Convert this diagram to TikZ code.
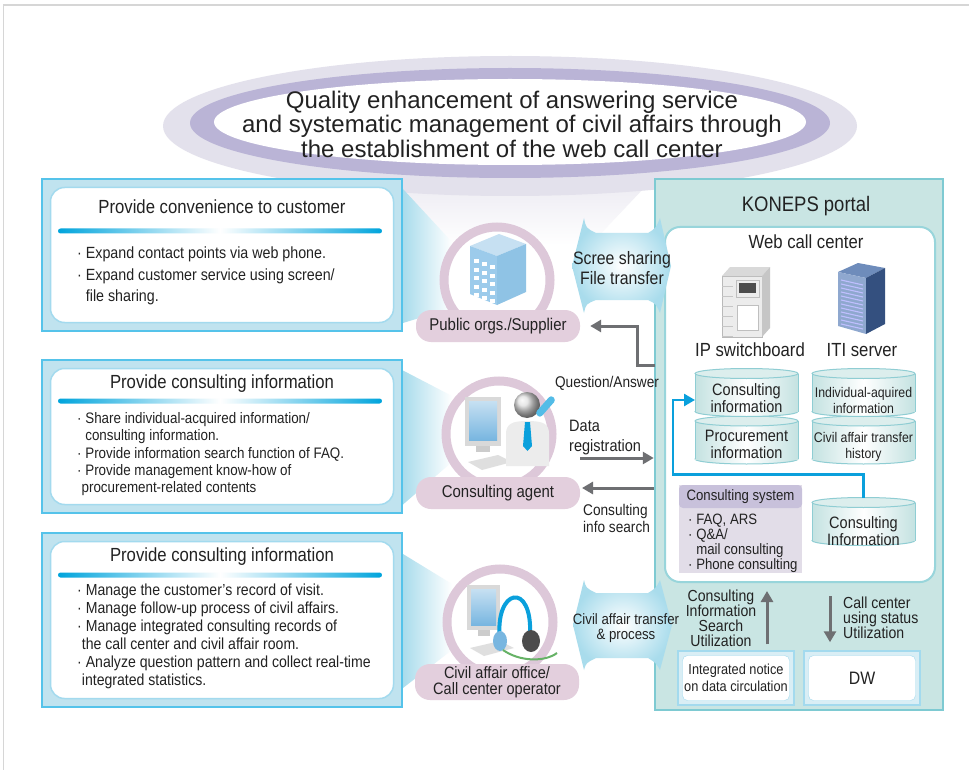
\documentclass[tikz,border=0pt]{standalone}
\usepackage{fontspec}
\setmainfont{Liberation Sans}[FakeStretch=0.88]
\newfontfamily\headfont{Liberation Sans}
\usetikzlibrary{arrows.meta,positioning}

% colours
\definecolor{halolav}{HTML}{E3E1EC}
\definecolor{ringlav}{HTML}{BAB4D6}
\definecolor{boxblue}{HTML}{55C3EA}
\definecolor{boxfill}{HTML}{C0E3EF}
\definecolor{innerline}{HTML}{A3DAEE}
\definecolor{barblue}{HTML}{00A4DC}
\definecolor{conecyan}{HTML}{A9DCEC}
\definecolor{pinkring}{HTML}{DDC8D9}
\definecolor{pillpink}{HTML}{E3CFDD}
\definecolor{portalfill}{HTML}{C9E5E3}
\definecolor{portalline}{HTML}{7ECAD2}
\definecolor{arrowgray}{HTML}{6E6F72}
\definecolor{flowblue}{HTML}{0AA0DC}
\definecolor{cylfill}{HTML}{C4E2E1}
\definecolor{cylline}{HTML}{8FCDD3}
\definecolor{sysfill}{HTML}{E2DDE8}
\definecolor{syshead}{HTML}{C8C1DB}
\definecolor{framegray}{HTML}{D6D6D6}
\definecolor{bldlight}{HTML}{C6E0F2}
\definecolor{bldmid}{HTML}{9CCBEB}
\definecolor{blddark}{HTML}{78B6E0}
\definecolor{itiTop}{HTML}{6E8CBB}
\definecolor{itiFront}{HTML}{8FA8CF}
\definecolor{itiSide}{HTML}{34507F}
\definecolor{ink}{HTML}{222222}

\newcommand{\fsz}[2]{\fontsize{#1}{#2}\selectfont}

\tikzset{
  outerbox/.style={draw=boxblue, line width=2pt, fill=boxfill, minimum width=360pt, inner sep=0pt},
  innerbox/.style={draw=innerline, line width=1.5pt, fill=white, rounded corners=14pt, minimum width=343pt, inner sep=0pt},
  boxtitle/.style={font=\fsz{19}{22}, text=ink, inner sep=0pt},
  bullets/.style={anchor=north west, align=left, inner sep=0pt, text=ink},
  ring/.style={draw=pinkring, line width=9pt, fill=white, circle, minimum size=106pt, inner sep=0pt},
  pill/.style={fill=pillpink, rounded corners=15pt, minimum width=164pt, minimum height=32pt, inner sep=0pt, font=\fsz{17}{15}, align=center, text=ink},
  portal/.style={draw=portalline, line width=2.5pt, fill=portalfill, inner sep=0pt},
  webcc/.style={draw=portalline!80, line width=2pt, fill=white, rounded corners=15pt, inner sep=0pt},
  grayarrow/.style={draw=arrowgray, line width=3pt, -{Triangle[length=11pt,width=12pt]}},
  flowline/.style={draw=flowblue, line width=2.6pt, -{Triangle[length=11pt,width=12pt]}},
  fat/.style={inner color=white, outer color=conecyan},
  lbl/.style={inner sep=0pt, align=center, text=ink},
  dbtext/.style={inner sep=0pt, align=center, text=ink},
  pics/dbcan/.style={code={
    \shade[left color=cylfill, right color=cylfill, middle color=white] (0,19) ellipse [x radius=51.5, y radius=5];
    \draw[cylline, line width=1pt] (0,19) ellipse [x radius=51.5, y radius=5];
    \shade[left color=cylfill, right color=cylfill, middle color=white] (-51.5,-19) rectangle (51.5,19);
    \draw[cylline, line width=1pt] (-51.5,-19) -- (-51.5,19) (51.5,-19) -- (51.5,19);
    \fill[cylfill!60] (0,-19) ellipse [x radius=51.5, y radius=5];
    \draw[cylline, line width=1pt] (0,-19) ellipse [x radius=51.5, y radius=5];
    \coordinate (-top) at (0,-24);
    \coordinate (-west) at (-51.5,7.5);
  }},
}

\begin{document}
\begin{tikzpicture}[x=1pt,y=-1pt]
  \useasboundingbox[fill=white] (0,0) rectangle (969,770);
  \draw[framegray, line width=1.5pt] (3.5,770) -- (3.5,5) -- (969,5);

  % goal ellipse and its funnel
  \shade[top color=halolav, bottom color=white] (350,150) -- (680,150) -- (590,245) -- (440,245) -- cycle;
  \fill[halolav] (510,126) ellipse [x radius=347, y radius=70];
  \fill[ringlav] (510,123) ellipse [x radius=320, y radius=55];
  \fill[white] (510,122) ellipse [x radius=296, y radius=43];
  \node[lbl, font=\headfont\fsz{24}{24.5}] (goal) at (512,124)
    {Quality enhancement of answering service\\and systematic management of civil affairs through\\the establishment of the web call center};

  % left boxes
  \foreach \nm/\cy/\h/\ty/\by/\ttl in {cust/255/152/207/231/Provide convenience to customer,
      info/436.5/153/384/401/Provide consulting information,
      civil/620/174/557/575/Provide consulting information} {
    \node[outerbox, minimum height={\h pt}] (\nm box) at (222,\cy) {};
    \node[innerbox, minimum height={\h pt-17pt}] (\nm inner) at (\nm box) {};
    \shade[left color=barblue, right color=barblue, middle color=white, rounded corners=2.5pt] (58,\by-2.5) rectangle (382,\by+2.5);
    \node[boxtitle] (\nm title) at (222,\ty) {\ttl};
  }
  \node[bullets, font=\fsz{16.2}{21.5}] (custlist) at (77,247)
    {· Expand contact points via web phone.\\· Expand customer service using screen/\\\phantom{· }file sharing.};
  \node[bullets, font=\fsz{15.2}{17.4}] (infolist) at (77,412)
    {· Share individual-acquired information/\\\phantom{· }consulting information.\\· Provide information search function of FAQ.\\· Provide management know-how of\\\phantom{·}procurement-related contents};
  \node[bullets, font=\fsz{16}{18}] (civillist) at (77,584)
    {· Manage the customer's record of visit.\\· Manage follow-up process of civil affairs.\\· Manage integrated consulting records of\\\phantom{·}the call center and civil affair room.\\· Analyze question pattern and collect real-time\\\phantom{·}integrated statistics.};

  % cones towards the rings
  \foreach \cy/\ry in {255/280, 436.5/434, 620/622}
    \shade[left color=conecyan, right color=white] (403,\cy-66) -- (452,\ry-38) -- (452,\ry+28) -- (403,\cy+68) -- cycle;

  % rings
  \node[ring] (orgsring) at (497,280) {};
  \node[ring] (agentring) at (499,434) {};
  \node[ring] (civilring) at (500,622) {};

  % building
  \fill[bldlight] (470,246) -- (499,234) -- (526,244) -- (497,256) -- cycle;
  \fill[bldmid] (470,246) -- (497,256) -- (497,305) -- (470,294) -- cycle;
  \fill[blddark!70!bldlight] (497,256) -- (526,244) -- (526,292) -- (497,305) -- cycle;
  \foreach \c in {0,1,2}
    \foreach \r in {0,...,4}
      \fill[white] (474+8*\c,259+8.5*\r+3*\c) rectangle ++(5,4);

  % agent at a computer
  \fill[gray!30] (465,397) rectangle (501,446);
  \shade[top color=bldlight, bottom color=blddark] (469,401) rectangle (497,440);
  \fill[gray!40] (476,446) rectangle (490,452);
  \fill[gray!25] (468,462) -- (498,455) -- (512,462) -- (482,470) -- cycle;
  \fill[gray!15] (506,466) -- (506,434) .. controls (506,424) and (512,421) .. (527,421) .. controls (544,421) and (549,424) .. (549,434) -- (549,466) -- cycle;
  \shade[ball color=gray!25] (527,405) circle (13);
  \fill[flowblue] (525,422) -- (530,422) -- (532,446) -- (527.5,451) -- (523,446) -- cycle;
  \fill[flowblue!70, rounded corners=3pt] (535,413) -- (551,395) -- (556,400) -- (540,418) -- cycle;

  % operator with headset
  \fill[gray!30] (467,585) rectangle (500,630);
  \shade[top color=bldlight, bottom color=blddark] (471,589) rectangle (496,625);
  \fill[gray!40] (478,630) rectangle (490,636);
  \fill[gray!25] (470,648) -- (500,641) -- (514,648) -- (484,656) -- cycle;
  \draw[flowblue, line width=4pt] (500,640) .. controls (494,588) and (533,580) .. (530,636);
  \fill[blddark] (500,641) ellipse [x radius=7, y radius=10];
  \fill[gray!60!black] (531,641) ellipse [x radius=9, y radius=11];
  \draw[green!50!black!60, line width=2pt] (503,650) .. controls (520,662) and (545,662) .. (557,653);

  % labels under the rings
  \node[pill] (orgs) at (498,326) {Public orgs./Supplier};
  \node[pill] (agent) at (498,493) {Consulting agent};
  \node[pill, minimum height=36pt, font=\fsz{16.5}{16.5}] (civil) at (497,682) {Civil affair office/\\Call center operator};

  % portal
  \node[portal, minimum width=288pt, minimum height=531pt] (portal) at (799,444.5) {};
  \node[lbl, font=\fsz{21}{22}] (portaltitle) at (806,206) {KONEPS portal};
  \node[webcc, minimum width=270pt, minimum height=355pt] (webcc) at (800,404.5) {};
  \node[lbl, font=\fsz{19}{20}] (webcctitle) at (806,242) {Web call center};

  % IP switchboard
  \fill[gray!15] (722,276) rectangle (762,337);
  \draw[gray!55] (722,276) rectangle (762,337);
  \fill[gray!30] (722,276) -- (730,267) -- (770,267) -- (762,276) -- cycle;
  \fill[gray!45] (762,276) -- (770,267) -- (770,328) -- (762,337) -- cycle;
  \draw[gray!50] (736,280) rectangle (759,297);
  \fill[gray!60!black] (739,283) rectangle (756,293);
  \fill[white] (737,305) rectangle (758,330);
  \draw[gray!50] (737,305) rectangle (758,330);
  \foreach \y in {286,296,...,336}
    \draw[gray!45] (722,\y) -- (733,\y);
  \node[lbl, font=\fsz{19}{20}] (ipsw) at (750,350) {IP switchboard};

  % ITI server
  \fill[itiTop] (838,272) -- (858,263) -- (885,268) -- (866,278) -- cycle;
  \fill[itiFront] (838,272) -- (866,278) -- (866,334) -- (838,326) -- cycle;
  \fill[itiSide] (866,278) -- (885,268) -- (885,324) -- (866,334) -- cycle;
  \foreach \i in {0,...,11}
    \draw[white!75!blue, line width=1.1pt] (841,280+4*\i) -- (863,285+4*\i);
  \node[lbl, font=\fsz{19}{20}] (iti) at (862,350) {ITI server};

  % databases
  \pic (dbB) at (746.5,440) {dbcan};
  \pic (dbA) at (746.5,392.5) {dbcan};
  \pic (dbD) at (863.5,440) {dbcan};
  \pic (dbC) at (863.5,392.5) {dbcan};
  \pic (dbE) at (863.5,521.5) {dbcan};
  \node[dbtext, font=\fsz{16.5}{17}] (dbAtext) at (746.5,398.5) {Consulting\\information};
  \node[dbtext, font=\fsz{16.5}{17}] (dbBtext) at (746.5,444.5) {Procurement\\information};
  \node[dbtext, font=\fsz{14}{16}] (dbCtext) at (863.5,400) {Individual-aquired\\information};
  \node[dbtext, font=\fsz{14}{16}] (dbDtext) at (863.5,447) {Civil affair transfer\\history};
  \node[dbtext, font=\fsz{16.5}{17}] (dbEtext) at (863.5,531) {Consulting\\Information};
  \draw[flowline] (dbE-top) -- ++(0,-23) -| (673,400) -- (dbA-west);

  % consulting system
  \node[fill=sysfill, minimum width=123pt, minimum height=88pt, inner sep=0pt] (consys) at (740.5,529) {};
  \node[fill=syshead, rounded corners=4pt, minimum width=123pt, minimum height=23pt, inner sep=0pt, font=\fsz{15}{15}, text=ink] (syshead) at (740.5,496.5) {Consulting system};
  \node[bullets, font=\fsz{15}{15}] (syslist) at (688,514)
    {· FAQ, ARS\\· Q\&A/\\\phantom{· }mail consulting\\· Phone consulting};

  % bottom row
  \node[draw=innerline, line width=1.5pt, fill=boxfill!60, minimum width=116pt, minimum height=54pt] (noticebox) at (736,678) {};
  \node[draw=innerline, fill=white, rounded corners=5pt, minimum width=107pt, minimum height=45pt, inner sep=0pt, font=\fsz{14.5}{17}, align=center, text=ink] (notice) at (736,678) {Integrated notice\\on data circulation};
  \node[draw=innerline, line width=1.5pt, fill=boxfill!60, minimum width=116pt, minimum height=54pt] (dwbox) at (862,678) {};
  \node[draw=innerline, fill=white, rounded corners=5pt, minimum width=107pt, minimum height=45pt, inner sep=0pt, font=\fsz{18}{18}, text=ink] (dw) at (862,678) {DW};
  \node[lbl, font=\fsz{16}{15}] (searchlbl) at (721,618) {Consulting\\Information\\Search\\Utilization};
  \node[lbl, font=\fsz{16}{15}, align=left, anchor=west] (statlbl) at (843,618) {Call center\\using status\\Utilization};
  \coordinate (upfoot) at ([xshift=31pt,yshift=6pt]noticebox.north);
  \draw[grayarrow, shorten >=8pt] (upfoot) -- (upfoot |- webcc.south);
  \coordinate (downhead) at ([xshift=-32pt]dwbox.north);
  \draw[grayarrow, shorten <=13pt, shorten >=8pt] (downhead |- webcc.south) -- (downhead);

  % wide two-way arrows
  \shade[fat] (572,266) -- (584,218) .. controls (586,228) .. (596,233) -- (648,233) .. controls (656,228) .. (660,218) -- (671,266) -- (660,313) .. controls (656,304) .. (648,300) -- (596,300) .. controls (586,304) .. (584,313) -- cycle;
  \node[lbl, font=\fsz{18}{20}] (sharelbl) at (622,268) {Scree sharing\\File transfer};
  \shade[fat] (573,625) -- (584,580) .. controls (586,588) .. (596,593) -- (648,593) .. controls (656,588) .. (660,580) -- (672,625) -- (660,670) .. controls (656,663) .. (648,658) -- (596,658) .. controls (586,663) .. (584,670) -- cycle;
  \node[lbl, font=\fsz{15}{15}] (transferlbl) at (626,628) {Civil affair transfer\\\& process};

  % gray connectors
  \coordinate (qa) at (655,365);
  \draw[grayarrow] (qa) -| (637,326) -- ([xshift=10pt]orgs.east);
  \node[lbl, font=\fsz{15.5}{16}] (qalbl) at (607,383) {Question/Answer};
  \coordinate (dr) at (580,458);
  \draw[grayarrow] (dr) -- (dr -| portal.west);
  \node[lbl, font=\fsz{16.5}{20}, align=left, anchor=west] (drlbl) at (569,438) {Data\\registration};
  \coordinate (cs) at (582,488);
  \draw[grayarrow] (cs -| portal.west) -- (cs);
  \node[lbl, font=\fsz{15.5}{17}, align=left, anchor=west] (cslbl) at (583,518.5) {Consulting\\info search};
\end{tikzpicture}
\end{document}
